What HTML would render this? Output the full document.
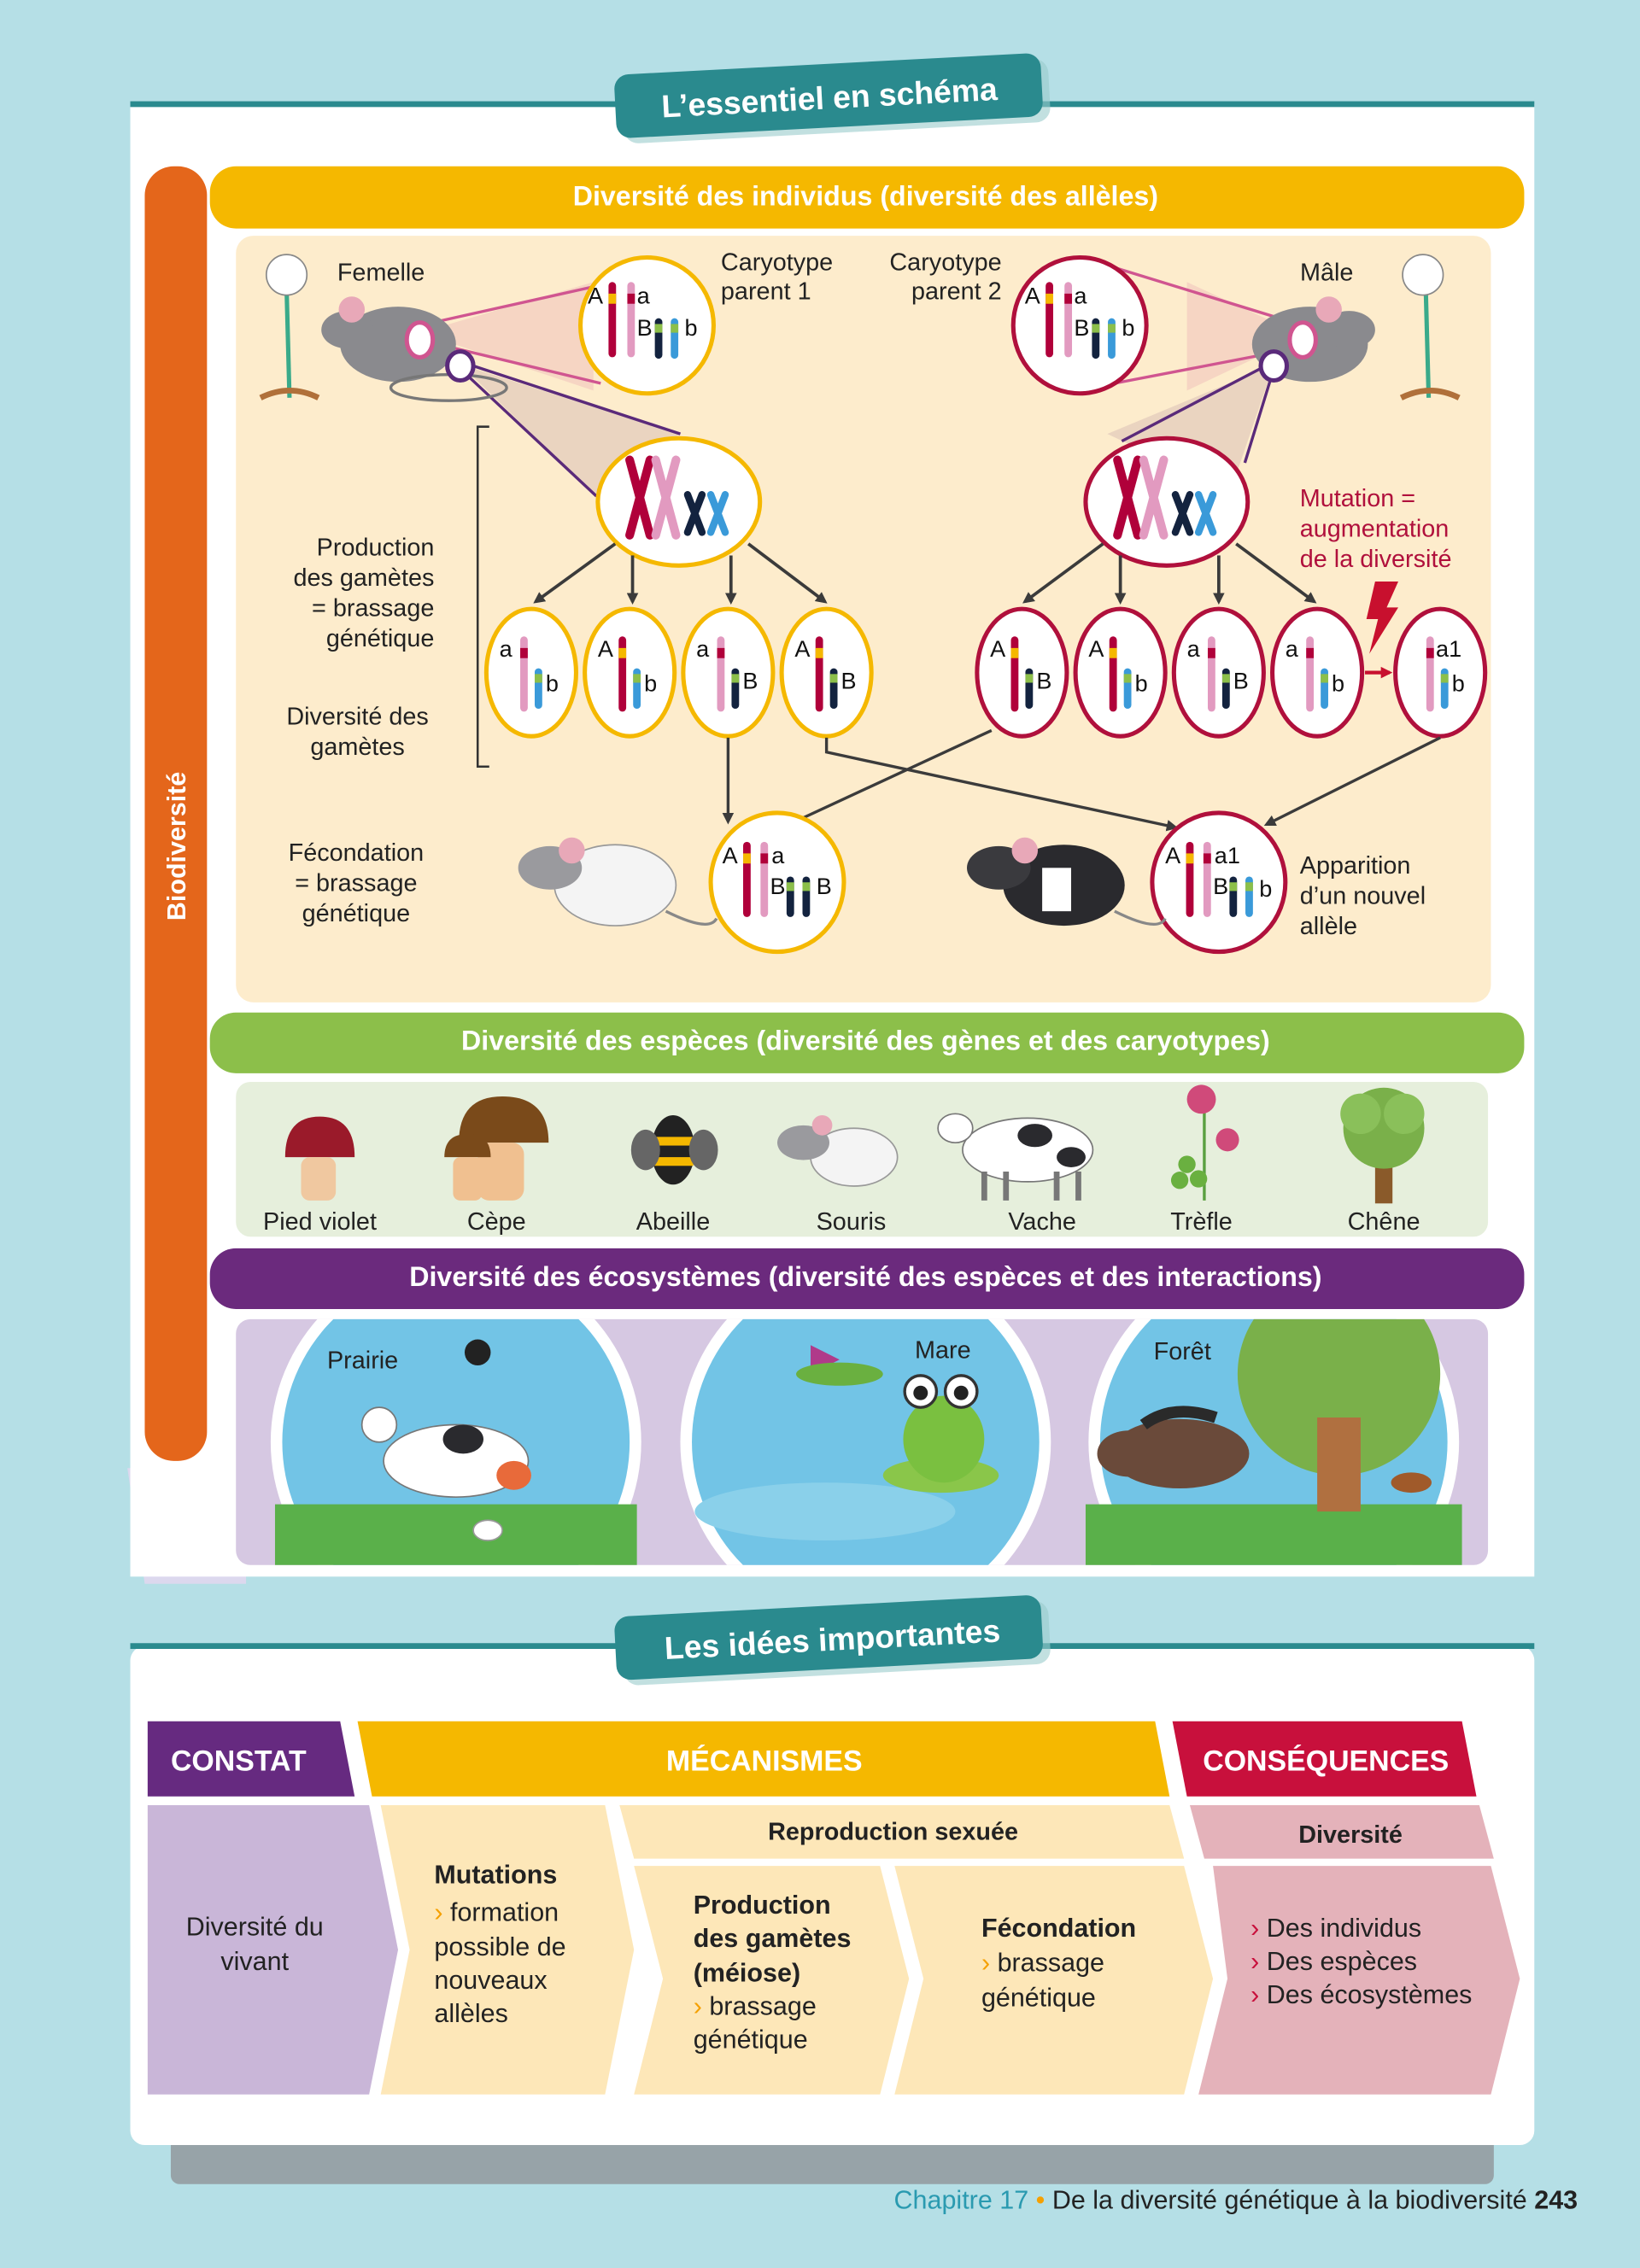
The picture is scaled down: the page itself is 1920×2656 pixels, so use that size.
<!DOCTYPE html>
<html><head><meta charset="utf-8"><style>html,body{margin:0;padding:0;background:#b5dfe6}svg{display:block}text{font-family:"Liberation Sans",sans-serif}</style></head><body>
<svg width="1920" height="2656" viewBox="0 0 1133 1568" preserveAspectRatio="none" xmlns="http://www.w3.org/2000/svg">
<defs>
<g id="cR"><rect x="-2.6" y="0" width="5.2" height="52" rx="2.6" fill="#b0003a"/><rect x="-2.6" y="8" width="5.2" height="7" fill="#f5b800"/></g>
<g id="cP"><rect x="-2.6" y="0" width="5.2" height="52" rx="2.6" fill="#e29ac0"/><rect x="-2.6" y="8" width="5.2" height="7" fill="#b0003a"/></g>
<g id="cD"><rect x="-2.6" y="0" width="5.2" height="28" rx="2.6" fill="#13233f"/><rect x="-2.6" y="4" width="5.2" height="6" fill="#8cbf4a"/></g>
<g id="cB"><rect x="-2.6" y="0" width="5.2" height="28" rx="2.6" fill="#3a9ad9"/><rect x="-2.6" y="4" width="5.2" height="6" fill="#8cbf4a"/></g>
<g id="XX" stroke-linecap="round" fill="none">
<path d="M-38,-26 L-24,26 M-24,-26 L-38,26" stroke="#b0003a" stroke-width="6"/>
<path d="M-20,-26 L-6,26 M-6,-26 L-20,26" stroke="#e29ac0" stroke-width="6"/>
<path d="M2,-2 L12,24 M12,-2 L2,24" stroke="#13233f" stroke-width="5"/>
<path d="M18,-2 L28,24 M28,-2 L18,24" stroke="#3a9ad9" stroke-width="5"/>
</g>
<marker id="ar" markerWidth="8" markerHeight="8" refX="6" refY="4" orient="auto" markerUnits="userSpaceOnUse"><path d="M0,0 L8,4 L0,8z" fill="#3b3b3b"/></marker>
<marker id="arr" markerWidth="8" markerHeight="8" refX="6" refY="4" orient="auto" markerUnits="userSpaceOnUse"><path d="M0,0 L8,4 L0,8z" fill="#c8102e"/></marker>
</defs>
<rect width="1133" height="1568" fill="#b5dfe6"/>
<polygon points="88,1015 100,1095 170,1095 170,1015" fill="#dcd8ee"/>
<rect x="90" y="72" width="970" height="1018" fill="#fff"/>
<rect x="90" y="70" width="970" height="4" fill="#2a8a8e"/>
<g transform="rotate(-3 575 68)"><rect x="430" y="48" width="295" height="44" rx="10" fill="#9cc" opacity=".6"/><rect x="425" y="44" width="295" height="44" rx="10" fill="#2a8a8e"/><text x="573" y="75" font-size="22" font-weight="bold" fill="#fff" text-anchor="middle">L’essentiel en schéma</text></g>
<rect x="100" y="115" width="43" height="895" rx="20" fill="#e4661b"/>
<text transform="translate(128 585) rotate(-90)" font-size="18" font-weight="bold" fill="#fff" text-anchor="middle">Biodiversité</text>
<rect x="145" y="115" width="908" height="43" rx="18" fill="#f5b800"/>
<text x="598" y="142" font-size="19" font-weight="bold" fill="#fff" text-anchor="middle">Diversité des individus (diversité des allèles)</text>
<rect x="163" y="163" width="867" height="530" rx="12" fill="#fdeccc"/>
<polygon points="290,230 410,195 410,270" fill="#f4cfc0" opacity=".8"/>
<polygon points="820,195 820,270 900,232" fill="#f4cfc0" opacity=".8"/>
<polygon points="318,252 470,300 412,343" fill="#ead4c0"/>
<polygon points="880,252 765,300 850,340" fill="#ead4c0"/>
<g stroke="#d05590" stroke-width="2"><line x1="290" y1="225" x2="420" y2="196"/><line x1="290" y1="235" x2="415" y2="265"/><line x1="900" y1="225" x2="770" y2="185"/><line x1="900" y1="240" x2="770" y2="265"/></g>
<g stroke="#5a2a7a" stroke-width="2"><line x1="318" y1="250" x2="470" y2="300"/><line x1="318" y1="255" x2="412" y2="343"/><line x1="880" y1="250" x2="775" y2="305"/><line x1="880" y1="255" x2="860" y2="320"/></g>
<g fill="#8a8a8e"><ellipse cx="275" cy="238" rx="40" ry="26"/><ellipse cx="240" cy="228" rx="18" ry="13"/><circle cx="243" cy="214" r="9" fill="#e8a8b8"/></g>
<ellipse cx="310" cy="268" rx="40" ry="9" fill="none" stroke="#777" stroke-width="2"/>
<ellipse cx="290" cy="235" rx="9" ry="12" fill="#fff" stroke="#d05590" stroke-width="3"/>
<ellipse cx="318" cy="253" rx="9" ry="10" fill="#fff" stroke="#5a2a7a" stroke-width="3"/>
<g fill="#8a8a8e"><ellipse cx="905" cy="238" rx="40" ry="26"/><ellipse cx="932" cy="228" rx="18" ry="13"/><circle cx="918" cy="214" r="9" fill="#e8a8b8"/></g>
<ellipse cx="900" cy="235" rx="9" ry="12" fill="#fff" stroke="#d05590" stroke-width="3"/>
<ellipse cx="880" cy="253" rx="9" ry="10" fill="#fff" stroke="#5a2a7a" stroke-width="3"/>
<g><line x1="198" y1="200" x2="200" y2="275" stroke="#3aaa8a" stroke-width="3"/><circle cx="198" cy="190" r="14" fill="#fff" stroke="#888"/><path d="M180,275 q20,-10 40,0" stroke="#b0703a" stroke-width="4" fill="none"/></g>
<g><line x1="985" y1="200" x2="987" y2="275" stroke="#3aaa8a" stroke-width="3"/><circle cx="983" cy="190" r="14" fill="#fff" stroke="#888"/><path d="M968,275 q20,-10 40,0" stroke="#b0703a" stroke-width="4" fill="none"/></g>
<text x="233" y="194" font-size="17" fill="#222">Femelle</text>
<text x="935" y="194" font-size="17" fill="#222" text-anchor="end">Mâle</text>
<text x="498" y="187" font-size="17" fill="#222">Caryotype</text><text x="498" y="207" font-size="17" fill="#222">parent 1</text>
<text x="692" y="187" font-size="17" fill="#222" text-anchor="end">Caryotype</text><text x="692" y="207" font-size="17" fill="#222" text-anchor="end">parent 2</text>
<ellipse cx="447" cy="225" rx="46" ry="47" fill="#fff" stroke="#f5b800" stroke-width="3"/>
<use href="#cR" x="423" y="195"/><use href="#cP" x="436" y="195"/><use href="#cD" x="455" y="220"/><use href="#cB" x="466" y="220"/>
<g font-size="16" fill="#111"><text x="406" y="210">A</text><text x="440" y="210">a</text><text x="440" y="232">B</text><text x="473" y="232">b</text></g>
<ellipse cx="746" cy="225" rx="46" ry="47" fill="#fff" stroke="#b0103c" stroke-width="3"/>
<use href="#cR" x="725" y="195"/><use href="#cP" x="738" y="195"/><use href="#cD" x="757" y="220"/><use href="#cB" x="768" y="220"/>
<g font-size="16" fill="#111"><text x="708" y="210">A</text><text x="742" y="210">a</text><text x="742" y="232">B</text><text x="775" y="232">b</text></g>
<ellipse cx="469" cy="347" rx="56" ry="44" fill="#fff" stroke="#f5b800" stroke-width="3"/>
<use href="#XX" x="473" y="344"/>
<ellipse cx="806" cy="347" rx="56" ry="44" fill="#fff" stroke="#b0103c" stroke-width="3"/>
<use href="#XX" x="810" y="344"/>
<g stroke="#3b3b3b" stroke-width="2.2" marker-end="url(#ar)"><line x1="425" y1="376" x2="370" y2="416"/><line x1="437" y1="384" x2="437" y2="416"/><line x1="505" y1="384" x2="505" y2="416"/><line x1="517" y1="376" x2="570" y2="416"/>
<line x1="762" y1="376" x2="708" y2="416"/><line x1="774" y1="384" x2="774" y2="416"/><line x1="842" y1="384" x2="842" y2="416"/><line x1="854" y1="376" x2="908" y2="416"/></g>
<g fill="#fff" stroke="#f5b800" stroke-width="3"><ellipse cx="367" cy="465" rx="31" ry="44"/><ellipse cx="435" cy="465" rx="31" ry="44"/><ellipse cx="503" cy="465" rx="31" ry="44"/><ellipse cx="571" cy="465" rx="31" ry="44"/></g>
<g fill="#fff" stroke="#b0103c" stroke-width="3"><ellipse cx="706" cy="465" rx="31" ry="44"/><ellipse cx="774" cy="465" rx="31" ry="44"/><ellipse cx="842" cy="465" rx="31" ry="44"/><ellipse cx="910" cy="465" rx="31" ry="44"/><ellipse cx="995" cy="465" rx="31" ry="44"/></g>
<g font-size="16" fill="#111">
<use href="#cP" x="362" y="440"/><use href="#cB" x="372" y="462"/><text x="345" y="454">a</text><text x="377" y="478">b</text>
<use href="#cR" x="430" y="440"/><use href="#cB" x="440" y="462"/><text x="413" y="454">A</text><text x="445" y="478">b</text>
<use href="#cP" x="498" y="440"/><use href="#cD" x="508" y="462"/><text x="481" y="454">a</text><text x="513" y="476">B</text>
<use href="#cR" x="566" y="440"/><use href="#cD" x="576" y="462"/><text x="549" y="454">A</text><text x="581" y="476">B</text>
<use href="#cR" x="701" y="440"/><use href="#cD" x="711" y="462"/><text x="684" y="454">A</text><text x="716" y="476">B</text>
<use href="#cR" x="769" y="440"/><use href="#cB" x="779" y="462"/><text x="752" y="454">A</text><text x="784" y="478">b</text>
<use href="#cP" x="837" y="440"/><use href="#cD" x="847" y="462"/><text x="820" y="454">a</text><text x="852" y="476">B</text>
<use href="#cP" x="905" y="440"/><use href="#cB" x="915" y="462"/><text x="888" y="454">a</text><text x="920" y="478">b</text>
<use href="#cP" x="988" y="440"/><use href="#cB" x="998" y="462"/><text x="992" y="454">a1</text><text x="1003" y="478">b</text>
</g>
<line x1="943" y1="465" x2="960" y2="465" stroke="#c8102e" stroke-width="2.5" marker-end="url(#arr)"/>
<polygon points="950,402 966,402 958,420 966,420 946,452 952,428 944,428" fill="#c8102e"/>
<g font-size="17" fill="#b0103c"><text x="898" y="350">Mutation =</text><text x="898" y="371">augmentation</text><text x="898" y="392">de la diversité</text></g>
<path d="M338,295 H330 V530 H338" fill="none" stroke="#333" stroke-width="1.5"/>
<g font-size="17" fill="#222" text-anchor="end"><text x="300" y="384">Production</text><text x="300" y="405">des gamètes</text><text x="300" y="426">= brassage</text><text x="300" y="447">génétique</text></g>
<g font-size="17" fill="#222" text-anchor="middle"><text x="247" y="501">Diversité des</text><text x="247" y="522">gamètes</text></g>
<g font-size="17" fill="#222" text-anchor="middle"><text x="246" y="595">Fécondation</text><text x="246" y="616">= brassage</text><text x="246" y="637">génétique</text></g>
<g stroke="#3b3b3b" stroke-width="2" fill="none" marker-end="url(#ar)"><line x1="503" y1="510" x2="503" y2="568"/><line x1="685" y1="505" x2="545" y2="570"/><path d="M571,510 V520 L812,572"/><line x1="995" y1="510" x2="875" y2="570"/></g>
<ellipse cx="537" cy="610" rx="46" ry="48" fill="#fff" stroke="#f5b800" stroke-width="3"/>
<use href="#cR" x="516" y="582"/><use href="#cP" x="528" y="582"/><use href="#cD" x="546" y="606"/><use href="#cD" x="557" y="606"/>
<g font-size="16" fill="#111"><text x="499" y="597">A</text><text x="533" y="597">a</text><text x="532" y="618">B</text><text x="564" y="618">B</text></g>
<ellipse cx="842" cy="610" rx="46" ry="48" fill="#fff" stroke="#b0103c" stroke-width="3"/>
<use href="#cR" x="822" y="582"/><use href="#cP" x="834" y="582"/><use href="#cD" x="852" y="606"/><use href="#cB" x="863" y="606"/>
<g font-size="16" fill="#111"><text x="805" y="597">A</text><text x="839" y="597">a1</text><text x="838" y="618">B</text><text x="870" y="620">b</text></g>
<g font-size="17" fill="#222"><text x="898" y="604">Apparition</text><text x="898" y="625">d’un nouvel</text><text x="898" y="646">allèle</text></g>
<g><ellipse cx="425" cy="612" rx="42" ry="28" fill="#f4f4f4" stroke="#999"/><ellipse cx="380" cy="600" rx="22" ry="15" fill="#9a9a9e"/><circle cx="395" cy="588" r="9" fill="#e8a8b8"/><path d="M460,630 q30,15 35,5" stroke="#888" fill="none" stroke-width="2"/></g>
<g><ellipse cx="735" cy="612" rx="42" ry="28" fill="#2a2a2e"/><ellipse cx="690" cy="600" rx="22" ry="15" fill="#3a3a3e"/><circle cx="708" cy="588" r="9" fill="#e8a8b8"/><rect x="720" y="600" width="20" height="30" fill="#fff"/><path d="M770,630 q30,15 35,5" stroke="#888" fill="none" stroke-width="2"/></g>
<rect x="145" y="700" width="908" height="42" rx="18" fill="#8cbf4a"/>
<text x="598" y="726" font-size="19" font-weight="bold" fill="#fff" text-anchor="middle">Diversité des espèces (diversité des gènes et des caryotypes)</text>
<rect x="163" y="748" width="865" height="107" rx="10" fill="#e6efdc"/>
<path d="M197,800 q0,-28 24,-28 q24,0 24,28z" fill="#9a1a2a"/><rect x="208" y="800" width="24" height="30" rx="6" fill="#f0c8a0"/>
<path d="M317,790 q0,-32 30,-32 q32,0 32,32z" fill="#7a4a1a"/><rect x="330" y="790" width="32" height="40" rx="8" fill="#f0c090"/><path d="M307,800 q0,-16 16,-16 q16,0 16,16z" fill="#7a4a1a"/><rect x="313" y="800" width="20" height="30" rx="5" fill="#f0c090"/>
<ellipse cx="465" cy="795" rx="15" ry="24" fill="#222"/><rect x="451" y="786" width="28" height="6" fill="#f5b800"/><rect x="451" y="800" width="28" height="6" fill="#f5b800"/><ellipse cx="446" cy="795" rx="10" ry="14" fill="#666"/><ellipse cx="486" cy="795" rx="10" ry="14" fill="#666"/>
<ellipse cx="590" cy="800" rx="30" ry="20" fill="#f4f4f4" stroke="#999"/><ellipse cx="555" cy="790" rx="18" ry="12" fill="#9a9a9e"/><circle cx="568" cy="778" r="7" fill="#e8a8b8"/>
<ellipse cx="710" cy="795" rx="45" ry="22" fill="#fff" stroke="#777"/><ellipse cx="715" cy="785" rx="12" ry="8" fill="#2a2a2e"/><ellipse cx="740" cy="800" rx="10" ry="7" fill="#2a2a2e"/><ellipse cx="660" cy="780" rx="12" ry="10" fill="#fff" stroke="#777"/><g stroke="#777" stroke-width="4"><line x1="680" y1="810" x2="680" y2="830"/><line x1="695" y1="810" x2="695" y2="830"/><line x1="730" y1="810" x2="730" y2="830"/><line x1="745" y1="810" x2="745" y2="830"/></g>
<line x1="832" y1="760" x2="832" y2="830" stroke="#5aa040" stroke-width="2"/><circle cx="830" cy="760" r="10" fill="#d04a7a"/><circle cx="848" cy="788" r="8" fill="#d04a7a"/><circle cx="820" cy="805" r="6" fill="#6ab040"/><circle cx="828" cy="815" r="6" fill="#6ab040"/><circle cx="815" cy="816" r="6" fill="#6ab040"/>
<rect x="950" y="800" width="12" height="32" fill="#8a5a2a"/><circle cx="956" cy="780" r="28" fill="#7ab04a"/><circle cx="940" cy="770" r="14" fill="#8ac05a"/><circle cx="970" cy="770" r="14" fill="#8ac05a"/>
<g font-size="17" fill="#222" text-anchor="middle"><text x="221" y="850">Pied violet</text><text x="343" y="850">Cèpe</text><text x="465" y="850">Abeille</text><text x="588" y="850">Souris</text><text x="720" y="850">Vache</text><text x="830" y="850">Trèfle</text><text x="956" y="850">Chêne</text></g>
<rect x="145" y="863" width="908" height="42" rx="18" fill="#6b2a7d"/>
<text x="598" y="889" font-size="19" font-weight="bold" fill="#fff" text-anchor="middle">Diversité des écosystèmes (diversité des espèces et des interactions)</text>
<rect x="163" y="912" width="865" height="170" rx="10" fill="#d6c8e2"/>
<clipPath id="cl"><rect x="163" y="912" width="865" height="170"/></clipPath>
<g clip-path="url(#cl)">
<g><circle cx="315" cy="997" r="128" fill="#fff"/><circle cx="315" cy="997" r="120" fill="#72c4e6"/><rect x="190" y="1040" width="250" height="80" fill="#5ab04a"/></g>
<g><circle cx="598" cy="997" r="128" fill="#fff"/><circle cx="598" cy="997" r="120" fill="#72c4e6"/><ellipse cx="570" cy="1045" rx="90" ry="20" fill="#8ad0ea"/></g>
<g><circle cx="880" cy="997" r="128" fill="#fff"/><circle cx="880" cy="997" r="120" fill="#72c4e6"/><rect x="750" y="1040" width="260" height="80" fill="#5ab04a"/><circle cx="925" cy="950" r="70" fill="#7ab04a"/><rect x="910" y="980" width="30" height="65" fill="#b07040"/></g>
</g>
<ellipse cx="315" cy="1010" rx="50" ry="25" fill="#fff" stroke="#777"/><ellipse cx="320" cy="995" rx="14" ry="10" fill="#2a2a2e"/><ellipse cx="355" cy="1020" rx="12" ry="10" fill="#e86a3a"/><ellipse cx="262" cy="985" rx="12" ry="12" fill="#fff" stroke="#777"/>
<circle cx="330" cy="935" r="9" fill="#222"/><ellipse cx="337" cy="1058" rx="10" ry="7" fill="#fff" stroke="#999"/>
<ellipse cx="650" cy="1020" rx="40" ry="12" fill="#8ac64a"/><ellipse cx="652" cy="995" rx="28" ry="30" fill="#7ac040"/><circle cx="636" cy="962" r="11" fill="#fff" stroke="#333" stroke-width="2"/><circle cx="664" cy="962" r="11" fill="#fff" stroke="#333" stroke-width="2"/><circle cx="636" cy="963" r="5" fill="#222"/><circle cx="664" cy="963" r="5" fill="#222"/>
<path d="M560,930 l20,10 l-20,10z" fill="#b03a8a"/><ellipse cx="580" cy="950" rx="30" ry="8" fill="#6ab040"/>
<ellipse cx="815" cy="1005" rx="48" ry="24" fill="#6a4a3a"/><ellipse cx="780" cy="1005" rx="22" ry="16" fill="#6a4a3a"/><path d="M790,985 q20,-15 50,-5" stroke="#2a2a2a" stroke-width="8" fill="none"/>
<ellipse cx="975" cy="1025" rx="14" ry="7" fill="#a05a2a"/>
<g font-size="17" fill="#222"><text x="226" y="946">Prairie</text><text x="632" y="939">Mare</text><text x="797" y="940">Forêt</text></g>
<rect x="118" y="1470" width="914" height="40" rx="6" fill="#97a3a8"/>
<rect x="90" y="1138" width="970" height="345" rx="10" fill="#fff"/>
<rect x="90" y="1136" width="970" height="4" fill="#2a8a8e"/>
<g transform="rotate(-3 575 1132)"><rect x="430" y="1114" width="295" height="44" rx="10" fill="#9cc" opacity=".6"/><rect x="425" y="1110" width="295" height="44" rx="10" fill="#2a8a8e"/><text x="575" y="1141" font-size="22" font-weight="bold" fill="#fff" text-anchor="middle">Les idées importantes</text></g>
<polygon points="102,1190 235,1190 245,1242 102,1242" fill="#662a80"/>
<text x="118" y="1224" font-size="20" font-weight="bold" fill="#fff">CONSTAT</text>
<polygon points="247,1190 798,1190 808,1242 257,1242" fill="#f5b800"/>
<text x="528" y="1224" font-size="20" font-weight="bold" fill="#fff" text-anchor="middle">MÉCANISMES</text>
<polygon points="810,1190 1010,1190 1020,1242 820,1242" fill="#c8103c"/>
<text x="916" y="1224" font-size="20" font-weight="bold" fill="#fff" text-anchor="middle">CONSÉQUENCES</text>
<polygon points="102,1248 255,1248 275,1348 255,1448 102,1448" fill="#c9b6d8"/>
<polygon points="263,1248 418,1248 438,1348 418,1448 263,1448 283,1348" fill="#fde7b8"/>
<polygon points="428,1248 808,1248 818,1285 438,1285" fill="#fde7b8"/>
<polygon points="438,1290 608,1290 628,1368 608,1448 438,1448 458,1368" fill="#fde7b8"/>
<polygon points="618,1290 818,1290 838,1368 818,1448 618,1448 638,1368" fill="#fde7b8"/>
<polygon points="822,1248 1022,1248 1032,1285 832,1285" fill="#e4b2ba"/>
<polygon points="838,1290 1030,1290 1050,1368 1030,1448 828,1448 848,1368" fill="#e4b2ba"/>
<g font-size="18" fill="#222"><text x="176" y="1338" text-anchor="middle">Diversité du</text><text x="176" y="1362" text-anchor="middle">vivant</text>
<text x="300" y="1302" font-weight="bold">Mutations</text><text x="300" y="1328"><tspan fill="#f5a000">›</tspan> formation</text><text x="300" y="1352">possible de</text><text x="300" y="1375">nouveaux</text><text x="300" y="1398">allèles</text>
<text x="617" y="1272" font-weight="bold" text-anchor="middle" font-size="17">Reproduction sexuée</text>
<text x="479" y="1323" font-weight="bold">Production</text><text x="479" y="1346" font-weight="bold">des gamètes</text><text x="479" y="1370" font-weight="bold">(méiose)</text><text x="479" y="1393"><tspan fill="#f5a000">›</tspan> brassage</text><text x="479" y="1416">génétique</text>
<text x="678" y="1339" font-weight="bold">Fécondation</text><text x="678" y="1363"><tspan fill="#f5a000">›</tspan> brassage</text><text x="678" y="1387">génétique</text>
<text x="933" y="1274" font-weight="bold" text-anchor="middle" font-size="17">Diversité</text>
<text x="864" y="1339"><tspan fill="#c8103c">›</tspan> Des individus</text><text x="864" y="1362"><tspan fill="#c8103c">›</tspan> Des espèces</text><text x="864" y="1385"><tspan fill="#c8103c">›</tspan> Des écosystèmes</text></g>
<text x="1090" y="1527" font-size="18" text-anchor="end" fill="#222"><tspan fill="#2a9ab0">Chapitre 17</tspan> <tspan fill="#f5a000">•</tspan> De la diversité génétique à la biodiversité  <tspan font-weight="bold">243</tspan></text>
</svg>
</body></html>
